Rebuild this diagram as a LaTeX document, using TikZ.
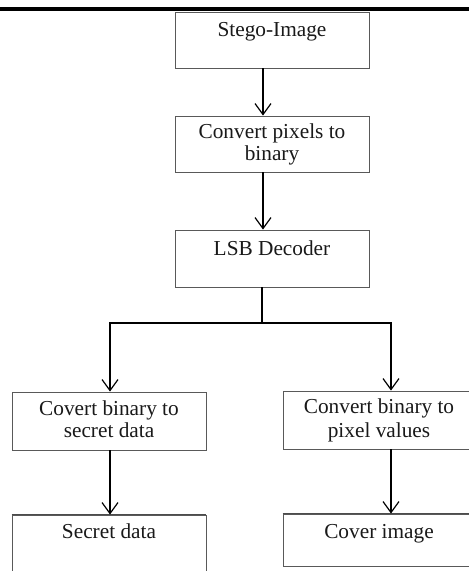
\documentclass[tikz,border=0pt]{standalone}
\usepackage{fontspec}
\setmainfont{Liberation Serif}
\usetikzlibrary{arrows.meta}
\begin{document}
\begin{tikzpicture}[x=1pt,y=-1pt,
  box/.style={draw=black!65, line width=0.9pt, rectangle, minimum width=194pt, minimum height=56pt, inner sep=0pt},
  lbl/.style={anchor=base, font=\fontsize{21.3}{23}\selectfont, inner sep=0pt, text=black!90},
  arr/.style={line width=1.2pt, -{Straight Barb[length=11pt,width=16pt,line width=1.2pt]}},
  conn/.style={line width=1.2pt},
  topline/.style={line width=1.8pt, draw=black!70}]
\useasboundingbox (0,0) rectangle (469,571);
\fill[black] (0,6.5) rectangle (469,11);
% boxes
\node[box] (s1) at (272,40) {};
\node[box] (s2) at (272,144) {};
\node[box, minimum height=57pt] (s3) at (272,258.5) {};
\node[box, minimum height=58pt] (l1) at (109,421) {};
\node[box, minimum width=192pt, minimum height=58pt] (r1) at (379,420) {};
\node[box] (l2) at (109,543) {};
\node[box, minimum width=192pt, minimum height=52pt] (r2) at (379,540) {};
\draw[topline] (l2.north west) -- (l2.north east);
\draw[topline] (r2.north west) -- (r2.north east);
% texts
\node[lbl] at (272,36) {Stego-Image};
\node[lbl] at (272,138) {Convert pixels to};
\node[lbl] at (272,160) {binary};
\node[lbl] at (272,255) {LSB Decoder};
\node[lbl] at (109,415) {Covert binary to};
\node[lbl] at (109,437) {secret data};
\node[lbl] at (379,413) {Convert binary to};
\node[lbl] at (379,437) {pixel values};
\node[lbl] at (109,538) {Secret data};
\node[lbl] at (379,538) {Cover image};
% connectors
\draw[arr] ([xshift=-9pt]s1.south) -- ([xshift=-9pt]s2.north);
\draw[arr] ([xshift=-9pt]s2.south) -- ([xshift=-9pt]s3.north);
\coordinate (br) at (262,323);
\draw[conn] ([xshift=-10pt]s3.south) -- (br);
\draw[arr] (br) -| ([xshift=1pt]l1.north);
\draw[arr] (br) -| ([xshift=12pt]r1.north);
\draw[arr] ([xshift=1pt]l1.south) -- ([xshift=1pt]l2.north);
\draw[arr] ([xshift=12pt]r1.south) -- ([xshift=12pt]r2.north);
\end{tikzpicture}
\end{document}
